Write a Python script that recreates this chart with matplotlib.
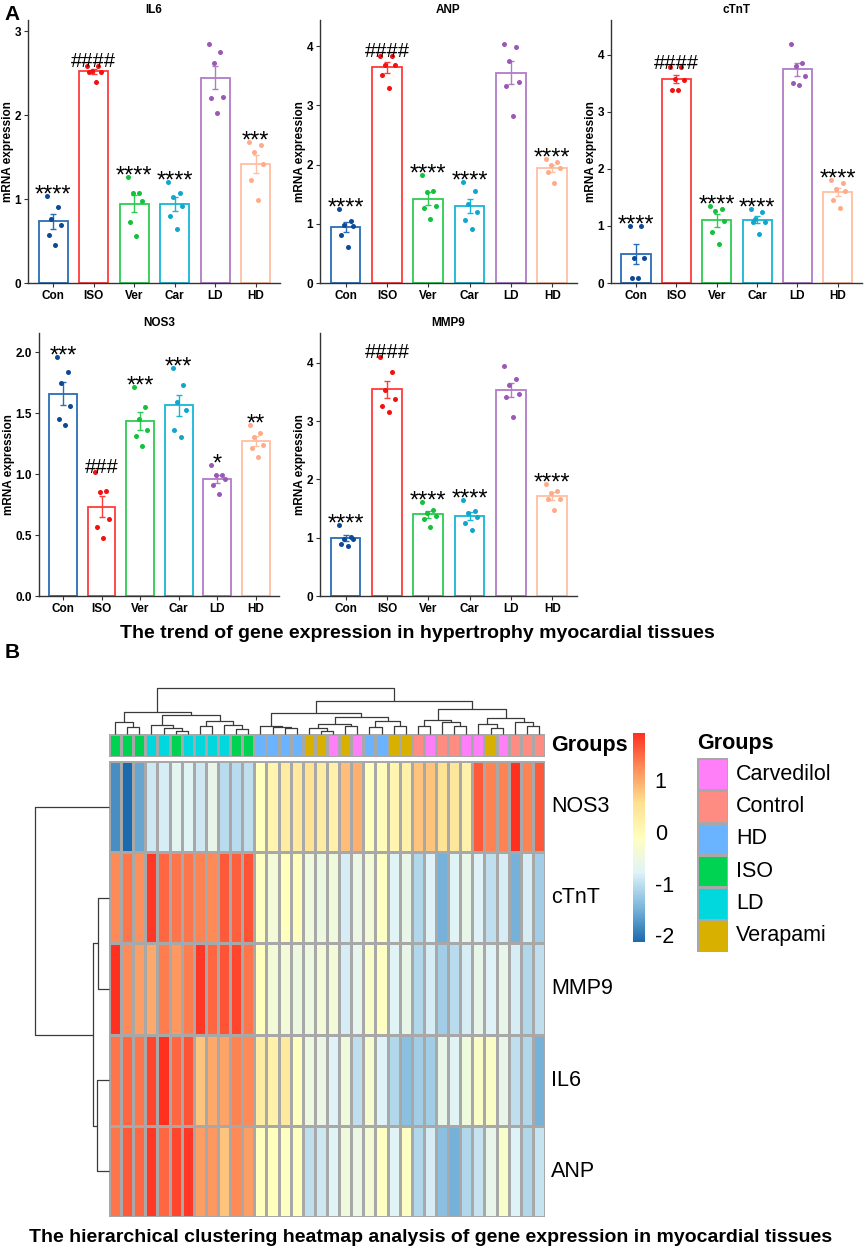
import numpy as np
import matplotlib
matplotlib.use('Agg')
import matplotlib.pyplot as plt
from matplotlib.colors import LinearSegmentedColormap, ListedColormap, Normalize
from matplotlib.cm import ScalarMappable

plt.rcParams['font.family'] = ['Liberation Sans', 'DejaVu Sans']
plt.rcParams['axes.unicode_minus'] = False

W, H = 865, 1252

# ---------------- panel A data ----------------
groups = ['Con', 'ISO', 'Ver', 'Car', 'LD', 'HD']
bar_edge = ['#2a6db5', '#ff3b3b', '#2ecc52', '#17b6d6', '#b07cc6', '#ffbfa3']
dot_col = ['#0d4a96', '#f21010', '#14c03c', '#12a6cc', '#9b59b6', '#ffab8a']

il6 = [[1.035, 0.90, 0.76, 0.69, 0.57, 0.455],
       [2.59, 2.59, 2.53, 2.51, 2.51, 2.40],
       [1.265, 1.07, 1.07, 0.98, 0.73, 0.565],
       [1.20, 1.075, 1.02, 0.92, 0.80, 0.645],
       [2.85, 2.75, 2.62, 2.22, 2.20, 2.03],
       [1.68, 1.65, 1.56, 1.42, 1.225, 0.99]]
anp = [[1.25, 1.05, 0.98, 0.955, 0.81, 0.61],
       [3.84, 3.84, 3.69, 3.68, 3.51, 3.29],
       [1.83, 1.55, 1.53, 1.30, 1.27, 1.085],
       [1.70, 1.56, 1.34, 1.20, 1.07, 0.91],
       [4.04, 3.99, 3.75, 3.40, 3.33, 2.83],
       [2.09, 2.05, 1.99, 1.94, 1.87, 1.69]]
ctnt = [[1.007, 1.007, 0.44, 0.44, 0.08, 0.08],
        [3.78, 3.78, 3.58, 3.55, 3.39, 3.39],
        [1.35, 1.30, 1.27, 1.08, 0.90, 0.68],
        [1.30, 1.25, 1.12, 1.07, 1.07, 0.856],
        [4.19, 3.86, 3.80, 3.63, 3.51, 3.475],
        [1.80, 1.75, 1.64, 1.62, 1.45, 1.31]]
nos3 = [[1.96, 1.837, 1.75, 1.557, 1.454, 1.40],
        [1.02, 0.86, 0.85, 0.628, 0.5625, 0.473],
        [1.715, 1.55, 1.45, 1.364, 1.31, 1.23],
        [1.867, 1.728, 1.59, 1.527, 1.36, 1.307],
        [1.073, 0.99, 0.99, 0.96, 0.913, 0.837],
        [1.40, 1.34, 1.30, 1.236, 1.21, 1.14]]
mmp9 = [[1.22, 1.02, 0.98, 0.97, 0.90, 0.86],
        [4.10, 3.835, 3.54, 3.38, 3.26, 3.16],
        [1.61, 1.47, 1.43, 1.38, 1.32, 1.18],
        [1.645, 1.46, 1.417, 1.35, 1.25, 1.138],
        [3.94, 3.727, 3.61, 3.465, 3.42, 3.07],
        [1.917, 1.80, 1.764, 1.667, 1.66, 1.47]]

sig_il6 = ['****', '####', '****', '****', '', '***']
sig_anp = ['****', '####', '****', '****', '', '****']
sig_ctnt = ['****', '####', '****', '****', '', '****']
sig_nos3 = ['***', '###', '***', '***', '*', '**']
sig_mmp9 = ['****', '####', '****', '****', '', '****']

ticks_il6 = [0, 1, 2, 3]
ticks_four = [0, 1, 2, 3, 4]
ticks_nos3 = [0.0, 0.5, 1.0, 1.5, 2.0]

# ---------------- panel B data ----------------
genes = ['NOS3', 'cTnT', 'MMP9', 'IL6', 'ANP']
hm_nos3 = [-1.8, -2.13, -1.6, -0.9, -0.85, -0.7, -0.75, -0.9, -0.6, -1.05, -1.05, -1.0,
           -0.1, 0.1, 0.3, 0.35, 0.5, 0.3, 0.2, 0.85, 0.95,
           -0.1, -0.05, 0.1, 0.2, 0.8, 0.8, 0.5, 0.4, 0.2,
           1.6, 1.3, 1.3, 1.91, 1.3, 1.6]
hm_ctnt = [1.25, 1.4, 1.2, 1.85, 1.5, 1.4, 1.4, 1.3, 1.25, 1.6, 1.55, 1.65,
           -0.15, -0.4, -0.1, -0.08, -0.45, -0.5, -0.45, -0.85, -0.55,
           -0.4, -0.15, -0.75, -0.6, -1.1, -0.8, -1.5, -0.75, -0.6,
           -0.8, -1.0, -0.85, -1.5, -0.85, -1.2]
hm_mmp9 = [1.9, 1.25, 1.1, 1.0, 1.35, 1.15, 1.35, 1.85, 1.5, 1.65, 1.75, 1.4,
           -0.1, -0.4, -0.4, -0.5, -0.5, -0.4, -0.4, -0.85, -0.65,
           -0.25, -0.15, -0.75, -0.6, -1.1, -0.85, -1.2, -1.05, -0.85,
           -0.6, -0.8, -0.6, -0.85, -1.1, -1.0]
hm_il6 = [1.4, 1.5, 1.4, 1.75, 1.9, 1.5, 1.65, 0.8, 1.0, 1.05, 1.3, 1.25,
          0.3, 0.2, 0.35, -0.1, -0.5, -0.55, -0.8, -0.45, -1.0,
          -0.3, -0.8, -1.1, -1.35, -1.2, -1.2, -0.6, -0.75, -0.45,
          -0.2, -0.2, -0.6, -1.0, -1.1, -1.5]
hm_anp = [1.4, 1.6, 1.5, 1.85, 1.5, 1.75, 1.85, 1.1, 1.15, 0.8, 1.25, 1.1,
          -0.1, -0.1, -0.15, -0.1, -1.0, -0.9, -0.75, -0.45, -0.55,
          -0.35, -0.15, -0.75, -0.15, -1.1, -0.85, -1.35, -1.5, -1.1,
          -0.95, -0.6, -0.25, -0.8, -1.1, -0.95]

col_groups = ['ISO', 'ISO', 'ISO', 'LD', 'LD', 'ISO', 'LD', 'LD', 'LD', 'LD', 'ISO', 'ISO',
              'HD', 'HD', 'HD', 'HD', 'Verapami', 'Verapami', 'Carvedilol', 'Verapami', 'Carvedilol',
              'HD', 'HD', 'Verapami', 'Verapami', 'Control', 'Carvedilol', 'Control', 'Control',
              'Carvedilol', 'Carvedilol', 'Verapami', 'Carvedilol', 'Control', 'Control', 'Control']
legend_names = ['Carvedilol', 'Control', 'HD', 'ISO', 'LD', 'Verapami']
legend_cols = ['#ff7ff8', '#ff8c82', '#6ab4ff', '#00d352', '#00d8de', '#d8b000']

# dendrograms: (left, right, height), leaves are column numbers / row indices
left_main = ((1, (2, 3, 7.0), 11.7),
             ((4, (5, (6, 7, 3.3), 6.0), 8.7),
              ((8, 9, 7.7), (10, (11, 12, 5.3), 9.3), 12.7), 19.3),
             22.3)
right_main = (((13, (14, (15, 16, 6.0), 7.0), 8.3),
               (((17, (18, 19, 2.7), 6.0), (20, 21, 7.7), 10.3),
                ((22, 23, 6.7), (24, 25, 7.7), 12.7), 17.0),
               21.0),
              (((26, 27, 7.7), (28, (29, 30, 7.7), 11.7), 14.3),
               ((31, (32, 33, 6.0), 10.0), (34, (35, 36, 7.7), 11.7), 16.0),
               25.0),
              33.3)
col_tree = (left_main, right_main, 46.0)
row_tree = (0, ((1, 2, 11.0), (3, 4, 12.0), 16.0), 74.0)

JITTER = [-0.16, 0.12, -0.04, 0.19, -0.11, 0.05]

fig = plt.figure(figsize=(W / 100, H / 100), dpi=100)


def rect(x0, y0, x1, y1):
    return [x0 / W, 1 - y1 / H, (x1 - x0) / W, (y1 - y0) / H]


def bar_panel(box, title, pts, marks, yticks, fmt):
    ax = fig.add_axes(box)
    pos = np.arange(len(groups))
    means = [np.mean(p) for p in pts]
    sems = [np.std(p, ddof=1) / np.sqrt(len(p)) for p in pts]
    ax.bar(pos, means, width=0.72, color='white', edgecolor=bar_edge, linewidth=1.3, zorder=2)
    for i in range(len(groups)):
        ax.errorbar(pos[i], means[i], yerr=sems[i], color=bar_edge[i], capsize=2.5,
                    elinewidth=1, capthick=1, zorder=3)
        ax.scatter(pos[i] + np.array(JITTER[:len(pts[i])]), pts[i], s=13,
                   color=dot_col[i], linewidths=0, zorder=4)
        if marks[i]:
            star = marks[i][0] == '*'
            ax.annotate(marks[i], (pos[i], max(pts[i])), xytext=(0, -4 if star else -1),
                        textcoords='offset points', ha='center', va='baseline',
                        fontsize=17 if star else 14.5, zorder=5)
    ax.set_xlim(-0.62, 5.6)
    ax.set_ylim(0, 1.1 * max(max(p) for p in pts))
    ax.set_xticks(pos)
    ax.set_xticklabels(groups, fontsize=8.5, fontweight='bold')
    ax.set_yticks(yticks)
    ax.set_yticklabels([fmt.format(t) for t in yticks], fontsize=8.5, fontweight='bold')
    ax.set_ylabel('mRNA expression', fontsize=8.5, fontweight='bold', labelpad=0.5)
    ax.set_title(title, fontsize=8.5, fontweight='bold', pad=5)
    for s in ['top', 'right']:
        ax.spines[s].set_visible(False)
    for s in ['left', 'bottom']:
        ax.spines[s].set_linewidth(1.0)
        ax.spines[s].set_color('#333333')
    ax.tick_params(length=3, width=0.8, color='#333333', pad=2)
    return ax


bar_panel(rect(28, 20, 280, 283), 'IL6', il6, sig_il6, ticks_il6, '{:g}')
bar_panel(rect(320, 20, 577, 283), 'ANP', anp, sig_anp, ticks_four, '{:g}')
bar_panel(rect(611, 20, 862, 283), 'cTnT', ctnt, sig_ctnt, ticks_four, '{:g}')
bar_panel(rect(39, 333, 279, 596), 'NOS3', nos3, sig_nos3, ticks_nos3, '{:.1f}')
bar_panel(rect(320, 333, 577, 596), 'MMP9', mmp9, sig_mmp9, ticks_four, '{:g}')

fig.text(4 / W, 1 - 14 / H, 'A', fontsize=15, fontweight='bold', ha='left', va='center')
fig.text(5 / W, 1 - 652 / H, 'B', fontsize=15, fontweight='bold', ha='left', va='center')
fig.text(417 / W, 1 - 633 / H, 'The trend of gene expression in hypertrophy myocardial tissues',
         fontsize=14, fontweight='bold', ha='center', va='center')
fig.text(431 / W, 1 - 1238 / H,
         'The hierarchical clustering heatmap analysis of gene expression in myocardial tissues',
         fontsize=14, fontweight='bold', ha='center', va='center')

# ---------------- heatmap ----------------
cmap = LinearSegmentedColormap.from_list(
    'rdylbu', ['#1a6aad', '#7db7dc', '#e0f3f8', '#ffffbf', '#fee090', '#fd8d59', '#ff3020'])
mat = np.array([hm_nos3, hm_ctnt, hm_mmp9, hm_il6, hm_anp])
norm = Normalize(mat.min(), mat.max())
grid_col = '#a8a8a8'

ax_hm = fig.add_axes(rect(109, 761, 545, 1217))
ax_hm.pcolormesh(mat, cmap=cmap, norm=norm, edgecolors=grid_col, linewidth=0.8)
ax_hm.set_xlim(0, mat.shape[1])
ax_hm.set_ylim(mat.shape[0], 0)
ax_hm.axis('off')
for r, g in enumerate(genes):
    ax_hm.text(mat.shape[1] + 0.5, r + 0.5, g, fontsize=15.5, ha='left', va='center')

ax_an = fig.add_axes(rect(109, 734, 545, 757))
idx = np.array([[legend_names.index(g) for g in col_groups]])
ax_an.pcolormesh(idx, cmap=ListedColormap(legend_cols), vmin=-0.5, vmax=len(legend_cols) - 0.5,
                 edgecolors=grid_col, linewidth=0.8)
ax_an.set_xlim(0, len(col_groups))
ax_an.set_ylim(1, 0)
ax_an.axis('off')
ax_an.text(len(col_groups) + 0.5, 0.5, 'Groups', fontsize=15.5, fontweight='bold',
           ha='left', va='center')


def draw_tree(ax, node, leaf_pos, vertical):
    if not isinstance(node, tuple):
        return leaf_pos(node), 0.0
    a, b, h = node
    pa, ha = draw_tree(ax, a, leaf_pos, vertical)
    pb, hb = draw_tree(ax, b, leaf_pos, vertical)
    p = [pa, pa, pb, pb]
    q = [ha, h, h, hb]
    if vertical:
        ax.plot(p, q, color='#3a3a3a', lw=0.9, clip_on=False, solid_capstyle='butt')
    else:
        ax.plot(q, p, color='#3a3a3a', lw=0.9, clip_on=False, solid_capstyle='butt')
    return (pa + pb) / 2, h


ax_cd = fig.add_axes(rect(109, 688, 545, 734))
draw_tree(ax_cd, col_tree, lambda c: c - 0.5, True)
ax_cd.set_xlim(0, len(col_groups))
ax_cd.set_ylim(0, col_tree[2])
ax_cd.axis('off')

ax_rd = fig.add_axes(rect(35, 761, 109, 1217))
draw_tree(ax_rd, row_tree, lambda r: r + 0.5, False)
ax_rd.set_xlim(row_tree[2], 0)
ax_rd.set_ylim(len(genes), 0)
ax_rd.axis('off')

# colour key
cax = fig.add_axes(rect(633, 733, 645, 942))
cb = fig.colorbar(ScalarMappable(norm=norm, cmap=cmap), cax=cax)
cb.outline.set_visible(False)
cb.set_ticks([-2, -1, 0, 1])
cb.set_ticklabels(['-2', '-1', '0', '1'])
cax.tick_params(length=0, labelsize=15.5, pad=7)

# group legend
ax_lg = fig.add_axes(rect(697, 758, 728, 952))
ax_lg.pcolormesh(np.arange(len(legend_cols)).reshape(-1, 1), cmap=ListedColormap(legend_cols),
                 vmin=-0.5, vmax=len(legend_cols) - 0.5, edgecolors=grid_col, linewidth=0.8)
ax_lg.set_ylim(len(legend_cols), 0)
ax_lg.set_xlim(0, 1)
ax_lg.axis('off')
for i, name in enumerate(legend_names):
    ax_lg.text(1.25, i + 0.5, name, fontsize=15.5, ha='left', va='center')
ax_lg.text(0, -0.45, 'Groups', fontsize=15.5, fontweight='bold', ha='left', va='center')

fig.savefig('out.png', dpi=100)
